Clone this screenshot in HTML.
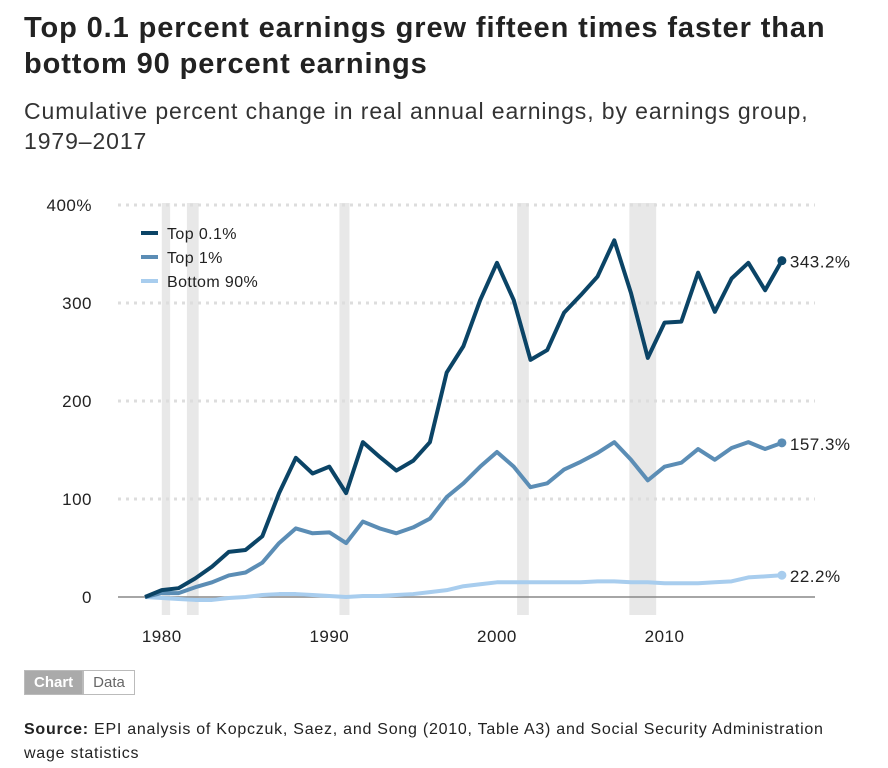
<!DOCTYPE html>
<html><head><meta charset="utf-8"><style>
body{margin:0;background:#fff;font-family:"Liberation Sans",sans-serif;color:#222;}
.t{position:absolute;left:24px;top:10px;font-size:29px;font-weight:bold;line-height:36px;width:840px;letter-spacing:0.9px;}
.s{position:absolute;left:24px;top:96px;font-size:23px;line-height:30px;color:#333;letter-spacing:0.9px;}
.btns{position:absolute;left:24px;top:670px;display:flex;font-size:15px;}
.btns div{padding:3px 9px;border:1px solid #bbb;}
.src{position:absolute;left:24px;top:718px;font-size:16px;line-height:24px;width:850px;letter-spacing:0.75px;}
</style></head><body>
<div class="t">Top 0.1 percent earnings grew fifteen times faster than bottom 90 percent earnings</div>
<div class="s">Cumulative percent change in real annual earnings, by earnings group,<br>1979–2017</div>
<svg id="c" width="888" height="768" style="position:absolute;left:0;top:0"></svg>
<div class="btns"><div style="background:#aaa;color:#fff;font-weight:bold">Chart</div><div style="color:#666">Data</div></div>
<div class="src"><b>Source:</b> EPI analysis of Kopczuk, Saez, and Song (2010, Table A3) and Social Security Administration<br>wage statistics</div>
<script>
const years=[];for(let y=1979;y<=2017;y++)years.push(y);
const top01=[0,7,9,19,31,46,48,62,106,142,126,133,106,158,143,129,139,158,229,256,303,341,303,242,252,290,308,327,364,310,244,280,281,331,291,325,341,313,343.2];
const top1=[0,4,4,10,15,22,25,35,55,70,65,66,55,77,70,65,71,80,102,116,133,148,133,112,116,130,138,147,158,140,119,133,137,151,140,152,158,151,157.3];
const bottom90=[0,-1,-2,-3,-3,-1,0,2,3,3,2,1,0,1,1,2,3,5,7,11,13,15,15,15,15,15,15,16,16,15,15,14,14,14,15,16,20,21,22.2];
const yTicks=[0,100,200,300,400];
const yTickLabels=["0","100","200","300","400%"];
const xTicks=[1980,1990,2000,2010];
const recessions=[[1980.0,1980.5],[1981.5,1982.2],[1990.6,1991.2],[2001.2,2001.9],[2007.9,2009.5]];
const ns="http://www.w3.org/2000/svg",svg=document.getElementById('c');
const X=y=>145+(y-1979)*16.76, Y=v=>597-v*0.98;
function mk(t,a){const e=document.createElementNS(ns,t);for(const k in a)e.setAttribute(k,a[k]);svg.appendChild(e);return e;}
recessions.forEach(r=>{const e=mk('rect',{x:X(r[0]),y:203,width:X(r[1])-X(r[0]),height:412,fill:'#e8e8e8'});

});
yTicks.forEach((v,i)=>{
 if(v>0){const g=mk('line',{x1:118,x2:815,y1:Y(v),y2:Y(v),stroke:'#ddd','stroke-width':3,'stroke-dasharray':'3 5'});
 
 }
 const t=mk('text',{x:92,y:Y(v)+6,'text-anchor':'end','font-size':17,fill:'#222','letter-spacing':'0.5'});t.textContent=yTickLabels[i];
 
 });
const z=mk('line',{x1:118,x2:815,y1:Y(0),y2:Y(0),stroke:'#888','stroke-width':1.5});


xTicks.forEach(x=>{const t=mk('text',{x:X(x),y:642,'text-anchor':'middle','font-size':17,fill:'#222','letter-spacing':'0.5'});t.textContent=x;
 
 });
const series=[[bottom90,'#a8cdee','22.2%','bottom-90-line'],[top1,'#5b8db5','157.3%','top-1-line'],[top01,'#0b4466','343.2%','top-01-line']];
series.forEach(s=>{const d=s[0].map((v,i)=>(i?'L':'M')+X(years[i])+','+Y(v)).join('');
 const p=mk('path',{d:d,fill:'none',stroke:s[1],'stroke-width':4,'stroke-linejoin':'round'});
 
 
 const last=s[0][s[0].length-1];
 const c=mk('circle',{cx:X(2017),cy:Y(last),r:4.5,fill:s[1]});
 
 
 const t=mk('text',{x:X(2017)+8,y:Y(last)+7,'font-size':17,fill:'#222','letter-spacing':'0.5'});t.textContent=s[2];
 
 });
[['Top 0.1%','#0b4466'],['Top 1%','#5b8db5'],['Bottom 90%','#a8cdee']].forEach((l,i)=>{
 const y=233+i*24;
 const ln=mk('line',{x1:141,x2:158,y1:y,y2:y,stroke:l[1],'stroke-width':4});
 
 
 const t=mk('text',{x:167,y:y+6,'font-size':16,fill:'#222','letter-spacing':'0.4'});t.textContent=l[0];
 
 });
</script>
</body></html>
